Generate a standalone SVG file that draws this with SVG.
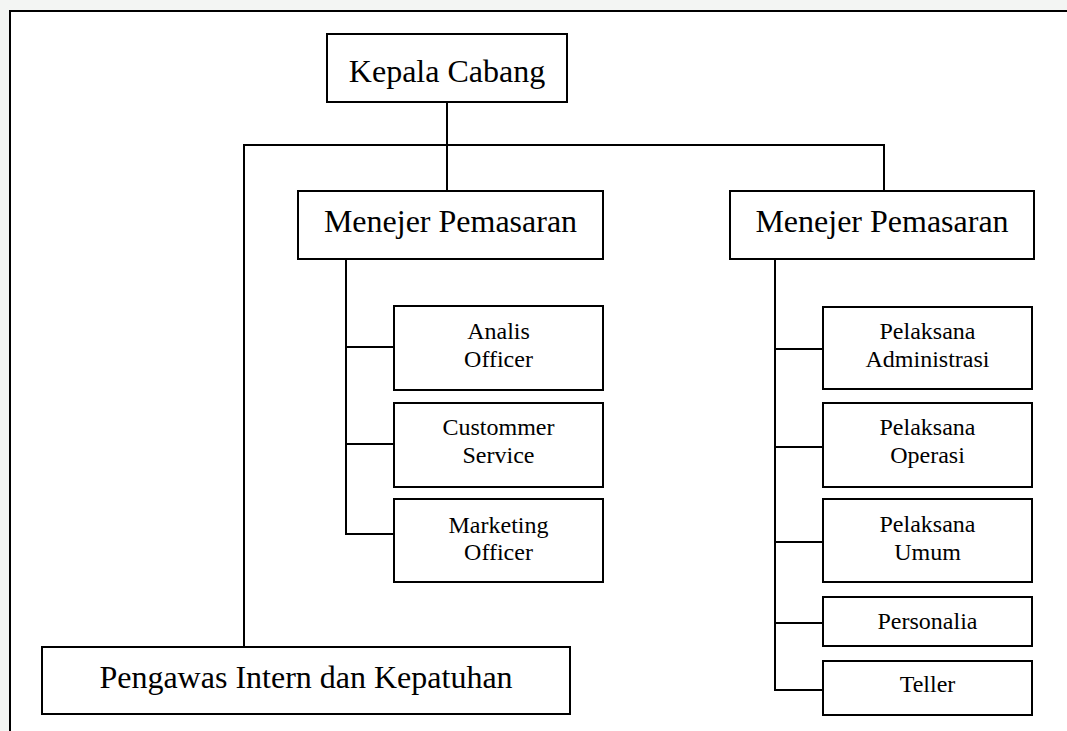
<svg xmlns="http://www.w3.org/2000/svg" width="1067" height="731" viewBox="0 0 1067 731">
<style>
.box{fill:#fff;stroke:#000;stroke-width:2}
.ln{fill:none;stroke:#000;stroke-width:2}
.big{font-family:"Liberation Serif","Times New Roman",serif;font-size:32px;fill:#000;text-anchor:middle}
.sm{font-family:"Liberation Serif","Times New Roman",serif;font-size:24px;fill:#000;text-anchor:middle}
</style>
<rect x="0" y="0" width="1067" height="731" fill="#f3f5f3"/>
<rect x="10" y="11" width="1060" height="725" fill="#fff"/>
<path class="ln" d="M10,731 V11 H1067"/>
<g id="connectors">
<path class="ln" d="M447,102 V191"/>
<path class="ln" d="M244,647 V145 H884 V191"/>
<path class="ln" d="M346,259 V534 H394 M346,347 H394 M346,444 H394"/>
<path class="ln" d="M775,256 V690 H823 M775,349 H823 M775,447 H823 M775,542 H823 M775,623 H823"/>
</g>
<g id="kepala"><rect class="box" x="327" y="34" width="240" height="68"/><text class="big" x="447" y="82">Kepala Cabang</text></g>
<g id="menejer1"><rect class="box" x="298" y="191" width="305" height="68"/><text class="big" x="450.5" y="232">Menejer Pemasaran</text></g>
<g id="menejer2"><rect class="box" x="730" y="191" width="304" height="68"/><text class="big" x="882" y="232">Menejer Pemasaran</text></g>
<g id="pengawas"><rect class="box" x="42" y="647" width="528" height="67"/><text class="big" x="306" y="688">Pengawas Intern dan Kepatuhan</text></g>
<g id="analis"><rect class="box" x="394" y="306" width="209" height="84"/><text class="sm" x="498.5" y="339">Analis</text><text class="sm" x="498.5" y="367">Officer</text></g>
<g id="customer"><rect class="box" x="394" y="403" width="209" height="84"/><text class="sm" x="498.5" y="435">Custommer</text><text class="sm" x="498.5" y="463">Service</text></g>
<g id="marketing"><rect class="box" x="394" y="499" width="209" height="83"/><text class="sm" x="498.5" y="533">Marketing</text><text class="sm" x="498.5" y="560">Officer</text></g>
<g id="admin"><rect class="box" x="823" y="307" width="209" height="82"/><text class="sm" x="927.5" y="339">Pelaksana</text><text class="sm" x="927.5" y="367">Administrasi</text></g>
<g id="operasi"><rect class="box" x="823" y="403" width="209" height="84"/><text class="sm" x="927.5" y="435">Pelaksana</text><text class="sm" x="927.5" y="463">Operasi</text></g>
<g id="umum"><rect class="box" x="823" y="499" width="209" height="83"/><text class="sm" x="927.5" y="532">Pelaksana</text><text class="sm" x="927.5" y="560">Umum</text></g>
<g id="personalia"><rect class="box" x="823" y="597" width="209" height="49"/><text class="sm" x="927.5" y="629">Personalia</text></g>
<g id="teller"><rect class="box" x="823" y="661" width="209" height="54"/><text class="sm" x="927.5" y="692">Teller</text></g>
</svg>
